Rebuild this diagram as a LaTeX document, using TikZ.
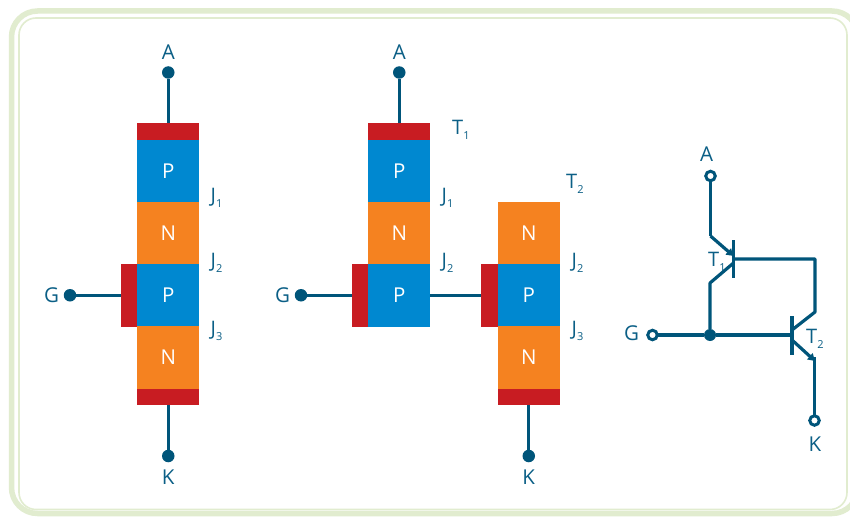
\documentclass[tikz,border=0pt]{standalone}
\usepackage{fontspec}
\setmainfont{Open Sans}
\usetikzlibrary{arrows.meta,positioning}
\definecolor{wire}{HTML}{00557A}
\definecolor{txt}{HTML}{0B5F86}
\definecolor{pblue}{HTML}{0088D0}
\definecolor{norange}{HTML}{F58220}
\definecolor{cred}{HTML}{C81C22}
\definecolor{frame}{HTML}{E1ECCF}
\newcommand{\subl}[2]{#1\raisebox{-4.5pt}{\fontsize{11}{12}\selectfont #2}}
\tikzset{
  x=1pt,y=-1pt,
  layer/.style={inner sep=0pt,outer sep=0pt,minimum width=62.25pt,text=white,font=\fontsize{20.5}{22}\selectfont},
  pl/.style={layer,fill=pblue,minimum height=62.5pt},
  nl/.style={layer,fill=norange,minimum height=62.5pt},
  endcap/.style={inner sep=0pt,outer sep=0pt,fill=cred,minimum width=62.25pt,minimum height=16.5pt},
  gatecap/.style={inner sep=0pt,outer sep=0pt,fill=cred,minimum width=16.5pt,minimum height=62.5pt},
  term/.style={circle,fill=wire,inner sep=0pt,outer sep=0pt,minimum size=12.5pt},
  oterm/.style={circle,draw=wire,fill=white,line width=3pt,inner sep=0pt,outer sep=0pt,minimum size=9.5pt},
  wireline/.style={draw=wire,line width=3.2pt},
  lab/.style={text=txt,inner sep=0pt,font=\fontsize{20.5}{22}\selectfont},
  jlab/.style={text=txt,inner sep=0pt,font=\fontsize{20}{22}\selectfont,anchor=west},
  framel/.style={draw=frame,rounded corners=26pt}
}
\begin{document}
\begin{tikzpicture}
\useasboundingbox (0,0) rectangle (850,516);
\fill[white] (0,0) rectangle (850,516);
\draw[framel,line width=5.5pt] (11.5,11) rectangle (858,513.5);
\draw[framel,line width=1.6pt,rounded corners=17pt] (19,18) rectangle (847,509.5);
% left stack
\node[endcap] (ltop) at (168.25,131.25) {};
\node[pl] (lp1) at (168.25,170.75) {P};
\node[nl] (ln1) at (168.25,233) {N};
\node[pl] (lp2) at (168.25,295.25) {P};
\node[nl] (ln2) at (168.25,357.5) {N};
\node[endcap] (lbot) at (168.25,396.75) {};
\node[gatecap] (lgate) at (128.75,295.25) {};
\node[term] (la) at (168.25,72.5) {};
\node[term] (lg) at (70,295.25) {};
\node[term] (lk) at (168.25,456) {};
\node[lab] at (168.25,52.5) {A};
\node[lab] at (51.5,295.25) {G};
\node[lab] at (168.25,477.5) {K};
\draw[wireline] (la) -- (ltop);
\draw[wireline] (lg) -- (lgate);
\draw[wireline] (lk) -- (lbot);
\node[jlab] at (210.5,198) {\subl{J}{1}};
\node[jlab] at (210.5,263) {\subl{J}{2}};
\node[jlab] at (210.5,331) {\subl{J}{3}};
% middle stack
\node[endcap] (mtop) at (399.25,131.25) {};
\node[pl] (mp1) at (399.25,170.75) {P};
\node[nl] (mn1) at (399.25,233) {N};
\node[pl] (mp2) at (399.25,295.25) {P};
\node[gatecap] (mgate) at (359.75,295.25) {};
\node[term] (ma) at (399.25,72.5) {};
\node[term] (mg) at (301,295.25) {};
\node[lab] at (399.25,52.5) {A};
\node[lab] at (282.5,295.25) {G};
\draw[wireline] (ma) -- (mtop);
\draw[wireline] (mg) -- (mgate);
\node[jlab] at (441.5,198) {\subl{J}{1}};
\node[jlab] at (441.5,263) {\subl{J}{2}};
\node[jlab] at (452,130) {\subl{T}{1}};
% right stack
\node[nl] (rn1) at (528.75,233) {N};
\node[pl] (rp) at (528.75,295.25) {P};
\node[nl] (rn2) at (528.75,357.5) {N};
\node[endcap] (rbot) at (528.75,396.75) {};
\node[gatecap] (rgate) at (489.25,295.25) {};
\node[term] (rk) at (528.75,456) {};
\node[lab] at (528.75,477.5) {K};
\draw[wireline] (mp2) -- (rgate);
\draw[wireline] (rk) -- (rbot);
\node[jlab] at (571.5,263) {\subl{J}{2}};
\node[jlab] at (571.5,331) {\subl{J}{3}};
\node[jlab] at (566,184) {\subl{T}{2}};
% circuit
\node[oterm] (ca) at (710.5,176) {};
\node[oterm] (cg) at (652.5,335) {};
\node[oterm] (ck) at (814.5,420.5) {};
\node[term,minimum size=12pt] (cj) at (710,335) {};
\coordinate (t1e) at (710.5,236);
\coordinate (t1b) at (733.5,259);
\coordinate (t1et) at (733.5,256);
\coordinate (t1ct) at (733.5,263);
\coordinate (t1cb) at (710,283);
\coordinate (t1bt) at (733.5,240);
\coordinate (t1bb) at (733.5,278);
\coordinate (cr) at (815,259);
\coordinate (t2cb) at (815,312);
\coordinate (t2ct) at (792,330);
\coordinate (t2b) at (792,335);
\coordinate (t2bt) at (792,316);
\coordinate (t2bb) at (792,355);
\coordinate (t2et) at (792,340);
\coordinate (t2ee) at (815,361);
\coordinate (t2k) at (814.5,357);
\draw[wireline,line join=round] (ca) -- (t1e);
\draw[wireline,-{Triangle[length=7pt,width=8pt]}] (t1e) -- (t1et);
\draw[wireline] (t1bt) -- (t1bb);
\draw[wireline,line join=round] (t1b) -- (cr) -- (t2cb) -- (t2ct);
\draw[wireline,line join=round] (t1ct) -- (t1cb) -- (cj);
\draw[wireline] (cg) -- (cj);
\draw[wireline] (cj) -- (t2b);
\draw[wireline] (t2bt) -- (t2bb);
\draw[wireline,-{Triangle[length=7pt,width=8pt]}] (t2et) -- (t2ee);
\draw[wireline] (t2k) -- (ck);
\node[lab] at (706.5,154) {A};
\node[lab] at (631.5,333) {G};
\node[lab] at (815,444) {K};
\node[jlab] at (708,262) {\subl{T}{1}};
\node[jlab] at (806,339) {\subl{T}{2}};
\end{tikzpicture}
\end{document}
